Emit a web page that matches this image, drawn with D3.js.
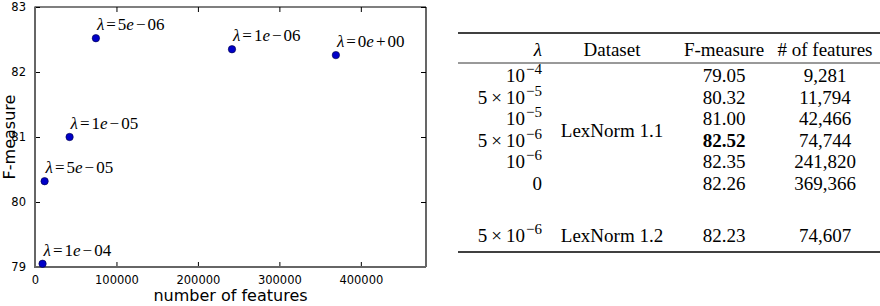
<!DOCTYPE html>
<html>
<head>
<meta charset="utf-8">
<script src="https://cdn.jsdelivr.net/npm/d3@7/dist/d3.min.js"></script>
<style>
  body { margin: 0; background: #fff; }
</style>
</head>
<body>
<svg width="880" height="306"></svg>
<script>
// scatter data: number of features vs F-measure
var features = [9281, 11794, 42466, 74744, 241820, 369366];
var fmeasure = [79.05, 80.32, 81.00, 82.52, 82.35, 82.26];
var lambdaLabels = ["1e\u221204", "5e\u221205", "1e\u221205", "5e\u221206", "1e\u221206", "0e+00"];

var xTicks = [0, 100000, 200000, 300000, 400000];
var yTicks = [79, 80, 81, 82, 83];

// table rows
var tLambdaCoef = ["", "5", "", "5", "", "", "5"];
var tLambdaExp = ["\u22124", "\u22125", "\u22125", "\u22126", "\u22126", null, "\u22126"];
var tDataset = ["LexNorm 1.1", "LexNorm 1.2"];
var tFmeasure = ["79.05", "80.32", "81.00", "82.52", "82.35", "82.26", "82.23"];
var tFeatures = ["9,281", "11,794", "42,466", "74,744", "241,820", "369,366", "74,607"];
var tHeaders = ["\u03bb", "Dataset", "F-measure", "# of features"];

var svg = d3.select("svg");

// plot box (note: "top" is taken by window, so use p*)
var pL = 35, pR = 426, pT = 7, pB = 267;

var x = d3.scaleLinear().domain([0, 480000]).range([pL, pR]);
var y = d3.scaleLinear().domain([79, 83]).range([pB, pT]);

var g = svg.append("g");

// inward ticks on all four sides
g.append("g")
    .attr("transform", "translate(0," + pB + ")")
    .call(d3.axisBottom(x).tickValues(xTicks).tickSize(-5).tickPadding(9).tickFormat(d3.format("d")))
    .call(function (a) { a.select(".domain").remove(); });
g.append("g")
    .attr("transform", "translate(0," + pT + ")")
    .call(d3.axisTop(x).tickValues(xTicks).tickSize(-5).tickFormat(""))
    .call(function (a) { a.select(".domain").remove(); });
g.append("g")
    .attr("transform", "translate(" + pL + ",0)")
    .call(d3.axisLeft(y).tickValues(yTicks).tickSize(-5).tickPadding(9).tickFormat(d3.format("d")))
    .call(function (a) { a.select(".domain").remove(); });
g.append("g")
    .attr("transform", "translate(" + pR + ",0)")
    .call(d3.axisRight(y).tickValues(yTicks).tickSize(-5).tickFormat(""))
    .call(function (a) { a.select(".domain").remove(); });

g.selectAll(".tick text")
    .style("font-family", "DejaVu Sans")
    .style("font-size", "11.5px")
    .attr("fill", "#000");
g.selectAll(".tick line").attr("stroke", "#000");

// frame: left/bottom spines look grey and heavier
svg.append("line").attr("x1", pL).attr("x2", pR).attr("y1", pT).attr("y2", pT)
    .attr("stroke", "#000").attr("stroke-width", 1.2);
svg.append("line").attr("x1", pR).attr("x2", pR).attr("y1", pT).attr("y2", pB)
    .attr("stroke", "#000").attr("stroke-width", 1.2);
svg.append("line").attr("x1", pL).attr("x2", pL).attr("y1", pT - 0.6).attr("y2", pB + 1)
    .attr("stroke", "#666").attr("stroke-width", 2);
svg.append("line").attr("x1", pL).attr("x2", pR).attr("y1", pB).attr("y2", pB)
    .attr("stroke", "#666").attr("stroke-width", 2);

// points
svg.append("g")
    .selectAll("circle")
    .data(features)
    .enter()
    .append("circle")
    .attr("cx", function (d) { return x(d); })
    .attr("cy", function (d, i) { return y(fmeasure[i]); })
    .attr("r", 3.7)
    .style("fill", "#0000c8")
    .style("stroke", "#000040")
    .style("stroke-width", 0.6);

// lambda annotations (mathtext-like spacing)
var ann = svg.append("g")
    .selectAll("text")
    .data(lambdaLabels)
    .enter()
    .append("text")
    .attr("x", function (d, i) { return x(features[i]) + 1; })
    .attr("y", function (d, i) { return y(fmeasure[i]) - 8; })
    .style("font-family", "Liberation Serif")
    .style("font-size", "17px");
ann.append("tspan").style("font-style", "italic").text("\u03bb");
ann.append("tspan").attr("dx", 2).text("=");
ann.append("tspan").attr("dx", 2).text(function (d) { return d.slice(0, 1); });
ann.append("tspan").style("font-style", "italic").text("e");
ann.append("tspan").attr("dx", 2).text(function (d) { return d.slice(2, 3); });
ann.append("tspan").attr("dx", 2).text(function (d) { return d.slice(3); });

// axis labels
svg.append("text")
    .attr("x", (pL + pR) / 2)
    .attr("y", 301)
    .attr("text-anchor", "middle")
    .style("font-family", "DejaVu Sans")
    .style("font-size", "16px")
    .text("number of features");
svg.append("text")
    .attr("text-anchor", "middle")
    .attr("transform", "translate(14.5," + (pT + pB) / 2 + ")rotate(-90)")
    .style("font-family", "DejaVu Sans")
    .style("font-size", "16px")
    .text("F-measure");

// ---- table ----
var tbl = svg.append("g")
    .style("font-family", "Liberation Serif")
    .style("font-size", "19px");

var colLambda = 542, colData = 612, colF = 724, colN = 825;
var rowY = d3.scaleLinear().domain([0, 6]).range([82, 211]);
var lastRowY = 242;
function ry(i) { return i < 6 ? rowY(i) : lastRowY; }

tbl.append("line").attr("x1", 458).attr("x2", 880).attr("y1", 33).attr("y2", 33)
    .attr("stroke", "#000").attr("stroke-width", 1.6);
tbl.append("line").attr("x1", 458).attr("x2", 880).attr("y1", 63).attr("y2", 63)
    .attr("stroke", "#000").attr("stroke-width", 0.8);
tbl.append("line").attr("x1", 458).attr("x2", 880).attr("y1", 252).attr("y2", 252)
    .attr("stroke", "#000").attr("stroke-width", 1.6);

var hx = [colLambda, colData, colF, colN];
tbl.selectAll(".hdr")
    .data(tHeaders)
    .enter()
    .append("text")
    .attr("class", "hdr")
    .attr("x", function (d, i) { return hx[i]; })
    .attr("y", 56)
    .attr("text-anchor", function (d, i) { return i === 0 ? "end" : "middle"; })
    .style("font-style", function (d, i) { return i === 0 ? "italic" : "normal"; })
    .text(function (d) { return d; });

// lambda column
var lam = tbl.selectAll(".lam")
    .data(tLambdaExp)
    .enter()
    .append("text")
    .attr("class", "lam")
    .attr("x", colLambda)
    .attr("y", function (d, i) { return ry(i); })
    .attr("text-anchor", "end");
lam.each(function (d, i) {
    var t = d3.select(this);
    if (d === null) { t.text("0"); return; }
    if (tLambdaCoef[i]) {
        t.append("tspan").text(tLambdaCoef[i]);
        t.append("tspan").attr("dx", 4).text("\u00d7");
        t.append("tspan").attr("dx", 4).text("10");
    } else {
        t.append("tspan").text("10");
    }
    t.append("tspan").attr("dy", -8).attr("dx", 1).style("font-size", "15px").text(d);
});

tbl.append("text").attr("x", colData).attr("y", (ry(0) + ry(5)) / 2 + 1)
    .attr("text-anchor", "middle").text(tDataset[0]);
tbl.append("text").attr("x", colData).attr("y", ry(6))
    .attr("text-anchor", "middle").text(tDataset[1]);

tbl.selectAll(".fm")
    .data(tFmeasure)
    .enter()
    .append("text")
    .attr("x", colF)
    .attr("y", function (d, i) { return ry(i); })
    .attr("text-anchor", "middle")
    .style("font-weight", function (d) { return d === "82.52" ? "bold" : "normal"; })
    .text(function (d) { return d; });

tbl.selectAll(".nf")
    .data(tFeatures)
    .enter()
    .append("text")
    .attr("x", colN)
    .attr("y", function (d, i) { return ry(i); })
    .attr("text-anchor", "middle")
    .text(function (d) { return d; });
</script>
</body>
</html>
